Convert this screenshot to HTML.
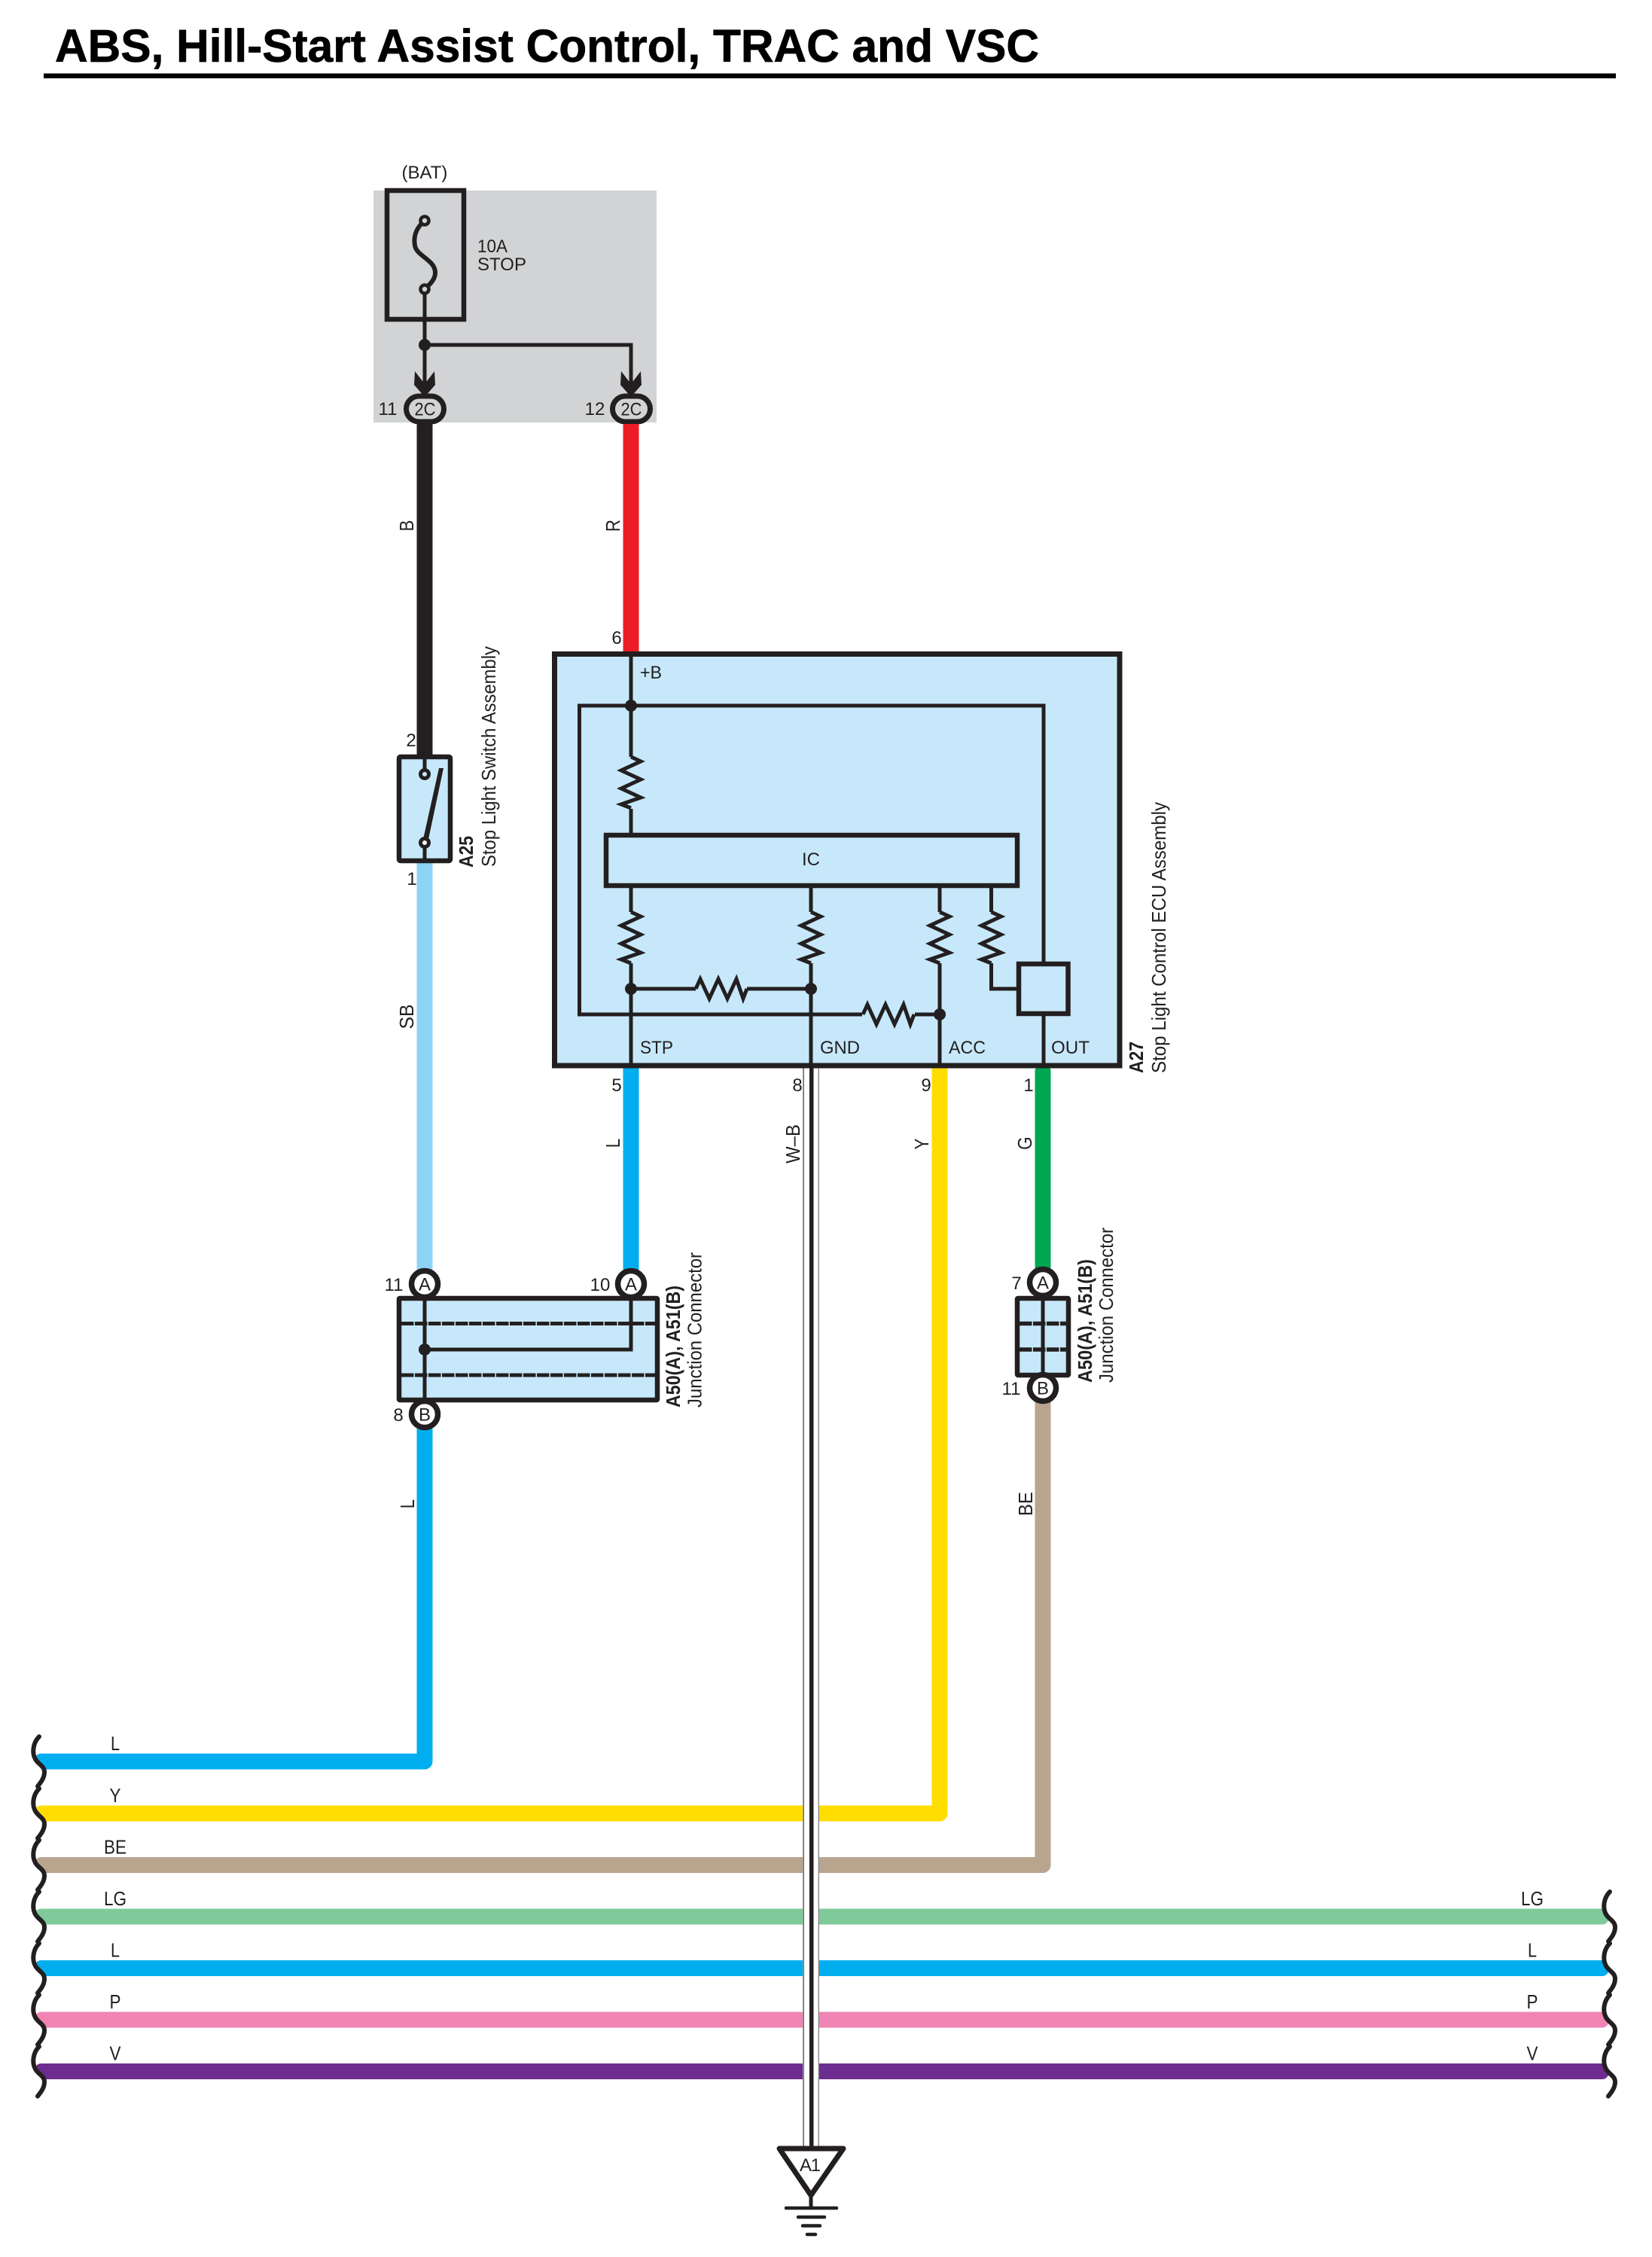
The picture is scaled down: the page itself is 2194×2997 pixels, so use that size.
<!DOCTYPE html>
<html lang="en">
<head>
<meta charset="utf-8">
<title>ABS, Hill-Start Assist Control, TRAC and VSC</title>
<style>
html,body{margin:0;padding:0;background:#fff}
svg{display:block}
text{font-family:"Liberation Sans",Arial,sans-serif;fill:#231f20}
.t{font-size:24px}
.m{text-anchor:middle}
.b{font-weight:bold}
</style>
</head>
<body>
<svg xmlns="http://www.w3.org/2000/svg" width="2194" height="2997" viewBox="0 0 2194 2997">
<defs>
  <path id="res" d="M0 0L13 6L-13 18L13 30L-13 42L13 54L-13 63L0 68" fill="none" stroke="#231f20" stroke-width="5" stroke-linejoin="miter"/>
  <path id="wave" d="M52 -33C44 -25 42 -12 47 -3C51 4 59 6 59 14C59 22 54 28 50 33" fill="none" stroke="#231f20" stroke-width="6" stroke-linecap="round"/>
  <path id="wave2" d="M2138 -33C2130 -25 2128 -12 2133 -3C2137 4 2145 6 2145 14C2145 22 2140 28 2136 33" fill="none" stroke="#231f20" stroke-width="6" stroke-linecap="round"/>
  <path id="arrow" d="M-13 -31L-3 -18L3 -18L13 -31L14 -13L0 3L-14 -13Z" fill="#231f20"/>
</defs>

<!-- Title -->
<text x="73" y="82" font-size="61" class="b" textLength="1307" lengthAdjust="spacingAndGlyphs" style="fill:#000;stroke:#000;stroke-width:.7">ABS, Hill-Start Assist Control, TRAC and VSC</text>
<rect x="58" y="97.500" width="2088" height="6.500" fill="#000"/>

<!-- Grey fuse block -->
<rect x="496" y="253" width="376" height="308" fill="#d1d3d4"/>
<rect x="514" y="253" width="102" height="171" fill="#d1d3d4" stroke="#231f20" stroke-width="6.500"/>
<text x="564" y="237" class="t m">(BAT)</text>
<text x="634" y="335" class="t" textLength="40" lengthAdjust="spacingAndGlyphs">10A</text>
<text x="634" y="359" class="t" textLength="65" lengthAdjust="spacingAndGlyphs">STOP</text>
<path d="M564 293C552 303 549 315 551 326C553 340 578 345 578 362C578 372 570 378 564 384" fill="none" stroke="#231f20" stroke-width="6"/>
<path d="M564 384V520M564 458H838V520" fill="none" stroke="#231f20" stroke-width="5"/>
<circle cx="564" cy="293" r="5.500" fill="#d1d3d4" stroke="#231f20" stroke-width="4.500"/>
<circle cx="564" cy="384" r="5.500" fill="#d1d3d4" stroke="#231f20" stroke-width="4.500"/>
<circle cx="564" cy="458" r="8" fill="#231f20"/>
<use href="#arrow" x="564" y="524"/>
<use href="#arrow" x="838" y="524"/>
<rect x="539.500" y="526" width="50" height="34" rx="17" fill="#d1d3d4" stroke="#231f20" stroke-width="7"/>
<rect x="813.500" y="526" width="50" height="34" rx="17" fill="#d1d3d4" stroke="#231f20" stroke-width="7"/>
<text x="564.500" y="551.500" class="t m" textLength="28" lengthAdjust="spacingAndGlyphs">2C</text>
<text x="838.500" y="551.500" class="t m" textLength="28" lengthAdjust="spacingAndGlyphs">2C</text>
<text x="515" y="551" class="t m">11</text>
<text x="790" y="551" class="t m">12</text>

<!-- Vertical coloured wires -->
<rect x="553.500" y="563" width="21" height="440" fill="#231f20"/>
<rect x="827.500" y="563" width="21" height="302" fill="#ed1c24"/>
<rect x="553.500" y="1146" width="21" height="540" fill="#8dd3f6"/>
<rect x="827.500" y="1418" width="21" height="268" fill="#00aeef"/>
<rect x="1237.500" y="1418" width="21" height="10" fill="#ffdd00"/>
<rect x="1374.500" y="1418" width="21" height="268" rx="3" fill="#00a651"/>

<!-- Bus wires -->
<path d="M564 1890V2339H62" fill="none" stroke="#00aeef" stroke-width="21" stroke-linejoin="round"/>
<path d="M1088 2408H1248V1418" fill="none" stroke="#ffdd00" stroke-width="21" stroke-linejoin="round"/>
<path d="M1088 2476.500H1385V1860" fill="none" stroke="#b9a48e" stroke-width="21" stroke-linejoin="round"/>
<rect x="60" y="2397.500" width="1006" height="21" fill="#ffdd00"/>
<rect x="60" y="2466" width="1006" height="21" fill="#b9a48e"/>

<path d="M48 2332Q50 2328.500 55 2328.500H70V2349.500H59Z" fill="#00aeef"/>
<path d="M48 2401Q50 2397.500 55 2397.500H70V2418.500H59Z" fill="#ffdd00"/>
<path d="M48 2469.500Q50 2466 55 2466H70V2487H59Z" fill="#b9a48e"/>

<path d="M48 2538Q50 2534.500 55 2534.500H1066V2555.500H59Z" fill="#80c99b"/>
<path d="M1088 2534.500H2130L2137 2548Q2134 2555.500 2128 2555.500H1088Z" fill="#80c99b"/>
<path d="M48 2606.500Q50 2603 55 2603H1066V2624H59Z" fill="#00aeef"/>
<path d="M1088 2603H2130L2137 2616.500Q2134 2624 2128 2624H1088Z" fill="#00aeef"/>
<path d="M48 2675Q50 2671.500 55 2671.500H1066V2692.500H59Z" fill="#f084b4"/>
<path d="M1088 2671.500H2130L2137 2685Q2134 2692.500 2128 2692.500H1088Z" fill="#f084b4"/>
<path d="M48 2743.500Q50 2740 55 2740H1066V2761H59Z" fill="#6d2c8f"/>
<path d="M1088 2740H2130L2137 2753.500Q2134 2761 2128 2761H1088Z" fill="#6d2c8f"/>

<!-- Wavy ends -->
<use href="#wave" y="2339"/>
<use href="#wave" y="2408"/>
<use href="#wave" y="2476.500"/>
<use href="#wave" y="2545"/>
<use href="#wave" y="2613.500"/>
<use href="#wave" y="2682"/>
<use href="#wave" y="2750.500"/>
<use href="#wave2" y="2545"/>
<use href="#wave2" y="2613.500"/>
<use href="#wave2" y="2682"/>
<use href="#wave2" y="2750.500"/>

<!-- Bus labels -->
<text x="153" y="2324" style="font-size:26px" class="m" textLength="12" lengthAdjust="spacingAndGlyphs">L</text>
<text x="153" y="2393" style="font-size:26px" class="m" textLength="15" lengthAdjust="spacingAndGlyphs">Y</text>
<text x="153" y="2461.500" style="font-size:26px" class="m" textLength="30" lengthAdjust="spacingAndGlyphs">BE</text>
<text x="153" y="2530" style="font-size:26px" class="m" textLength="30" lengthAdjust="spacingAndGlyphs">LG</text>
<text x="153" y="2598.500" style="font-size:26px" class="m" textLength="12" lengthAdjust="spacingAndGlyphs">L</text>
<text x="153" y="2667" style="font-size:26px" class="m" textLength="15" lengthAdjust="spacingAndGlyphs">P</text>
<text x="153" y="2735.500" style="font-size:26px" class="m" textLength="15" lengthAdjust="spacingAndGlyphs">V</text>
<text x="2035" y="2530" style="font-size:26px" class="m" textLength="30" lengthAdjust="spacingAndGlyphs">LG</text>
<text x="2035" y="2598.500" style="font-size:26px" class="m" textLength="12" lengthAdjust="spacingAndGlyphs">L</text>
<text x="2035" y="2667" style="font-size:26px" class="m" textLength="15" lengthAdjust="spacingAndGlyphs">P</text>
<text x="2035" y="2735.500" style="font-size:26px" class="m" textLength="15" lengthAdjust="spacingAndGlyphs">V</text>

<!-- Rotated wire labels -->
<text transform="translate(549 698) rotate(-90) scale(.86 1)" style="font-size:26px" class="m">B</text>
<text transform="translate(823 698) rotate(-90) scale(.86 1)" style="font-size:26px" class="m">R</text>
<text transform="translate(549 1350) rotate(-90) scale(.95 1)" style="font-size:26px" class="m">SB</text>
<text transform="translate(823 1518) rotate(-90) scale(.86 1)" style="font-size:26px" class="m">L</text>
<text transform="translate(1062 1519) rotate(-90) scale(.92 1)" style="font-size:26px" class="m">W–B</text>
<text transform="translate(1233 1519) rotate(-90) scale(.86 1)" style="font-size:26px" class="m">Y</text>
<text transform="translate(1370 1518) rotate(-90) scale(.86 1)" style="font-size:26px" class="m">G</text>
<text transform="translate(550 1997) rotate(-90) scale(.86 1)" style="font-size:26px" class="m">L</text>
<text transform="translate(1371 1997) rotate(-90) scale(.92 1)" style="font-size:26px" class="m">BE</text>

<!-- Stop light switch -->
<rect x="530" y="1005" width="68" height="138" rx="2" fill="#c7e8fa" stroke="#231f20" stroke-width="6.500"/>
<path d="M564 1005V1028M564 1119V1143" stroke="#231f20" stroke-width="5" fill="none"/>
<path d="M561 1119L583 1020H589L568 1119Z" fill="#231f20"/>
<circle cx="564" cy="1028" r="5.500" fill="#c7e8fa" stroke="#231f20" stroke-width="5"/>
<circle cx="564" cy="1119" r="5.500" fill="#fff" stroke="#231f20" stroke-width="5"/>
<text x="546" y="991" class="t m">2</text>
<text x="547" y="1175" class="t m">1</text>
<text transform="translate(628 1152) rotate(-90)" style="font-size:26px" class="b" textLength="42" lengthAdjust="spacingAndGlyphs">A25</text>
<text transform="translate(658 1151) rotate(-90)" style="font-size:26px" textLength="293" lengthAdjust="spacingAndGlyphs">Stop Light Switch Assembly</text>

<!-- ECU -->
<rect x="736.500" y="868.500" width="750.500" height="546.500" fill="#c7e8fa" stroke="#231f20" stroke-width="7"/>
<g fill="none" stroke="#231f20" stroke-width="5">
  <path d="M838 865V1005M838 1074V1106"/>
  <path d="M838 1179V1211M838 1279V1418"/>
  <path d="M1077 1179V1211M1077 1279V1418"/>
  <path d="M1248 1179V1211M1248 1279V1418"/>
  <path d="M1316.500 1179V1211M1316.500 1279V1313H1350"/>
  <path d="M1386 1277V937H769.500V1347H1145M1215 1347H1248"/>
  <path d="M1386 1349V1418"/>
  <path d="M838 1313H924M992 1313H1077"/>
</g>
<use href="#res" transform="translate(838 1005)"/>
<use href="#res" transform="translate(838 1211)"/>
<use href="#res" transform="translate(1077 1211)"/>
<use href="#res" transform="translate(1248 1211)"/>
<use href="#res" transform="translate(1316.500 1211)"/>
<use href="#res" transform="translate(924 1313) rotate(-90)"/>
<use href="#res" transform="translate(1146 1347) rotate(-90)"/>
<rect x="805" y="1109" width="546" height="67" fill="#c7e8fa" stroke="#231f20" stroke-width="6.500"/>
<rect x="1353" y="1280" width="65.500" height="66" fill="#c7e8fa" stroke="#231f20" stroke-width="6.500"/>
<circle cx="838" cy="937" r="8" fill="#231f20"/>
<circle cx="838" cy="1313" r="8" fill="#231f20"/>
<circle cx="1077" cy="1313" r="8" fill="#231f20"/>
<circle cx="1248" cy="1347" r="8" fill="#231f20"/>
<text x="1077" y="1149" class="t m">IC</text>
<text x="850" y="901" class="t" textLength="29" lengthAdjust="spacingAndGlyphs">+B</text>
<text x="850" y="1399" class="t" textLength="44" lengthAdjust="spacingAndGlyphs">STP</text>
<text x="1089" y="1399" class="t" textLength="53" lengthAdjust="spacingAndGlyphs">GND</text>
<text x="1260" y="1399" class="t" textLength="49" lengthAdjust="spacingAndGlyphs">ACC</text>
<text x="1396" y="1399" class="t" textLength="51" lengthAdjust="spacingAndGlyphs">OUT</text>
<text x="819" y="855" class="t m">6</text>
<text x="819" y="1449" class="t m">5</text>
<text x="1059" y="1449" class="t m">8</text>
<text x="1230" y="1449" class="t m">9</text>
<text x="1366" y="1449" class="t m">1</text>
<text transform="translate(1518 1425) rotate(-90)" style="font-size:26px" class="b" textLength="42" lengthAdjust="spacingAndGlyphs">A27</text>
<text transform="translate(1548 1425) rotate(-90)" style="font-size:26px" textLength="360" lengthAdjust="spacingAndGlyphs">Stop Light Control ECU Assembly</text>

<!-- GND wire -->
<rect x="1066.500" y="1418" width="1.200" height="1434" fill="#333"/>
<rect x="1086.600" y="1418" width="1.400" height="1434" fill="#888"/>
<rect x="1075" y="1418" width="5.500" height="1434" fill="#231f20"/>

<!-- Ground -->
<path d="M1035 2853H1120L1077 2915Z" fill="#fff" stroke="#231f20" stroke-width="7" stroke-linejoin="round"/>
<path d="M1077 2915V2932" stroke="#231f20" stroke-width="5" fill="none"/>
<g stroke="#231f20" stroke-width="4.500" stroke-linecap="round" fill="none">
  <path d="M1044 2932H1111"/>
  <path d="M1060 2944H1095"/>
  <path d="M1066 2955.500H1089"/>
  <path d="M1072 2967H1083"/>
</g>
<text x="1076" y="2883" class="t m" textLength="28" lengthAdjust="spacing">A1</text>

<!-- Junction connector 1 -->
<rect x="530" y="1724" width="343" height="135" rx="1" fill="#c7e8fa" stroke="#231f20" stroke-width="6.500"/>
<path d="M533 1757.500H870M533 1826H870" stroke="#231f20" stroke-width="5" stroke-dasharray="16.500 1.500" fill="none"/>
<path d="M564 1724V1859M564 1792H838V1724" stroke="#231f20" stroke-width="5" fill="none"/>
<circle cx="564" cy="1792" r="8" fill="#231f20"/>
<circle cx="564" cy="1705" r="17.500" fill="#fff" stroke="#231f20" stroke-width="7.500"/>
<circle cx="838" cy="1705" r="17.500" fill="#fff" stroke="#231f20" stroke-width="7.500"/>
<circle cx="564" cy="1878" r="17.500" fill="#fff" stroke="#231f20" stroke-width="7.500"/>
<text x="564" y="1713.500" class="t m">A</text>
<text x="838" y="1713.500" class="t m">A</text>
<text x="564" y="1886.500" class="t m">B</text>
<text x="523" y="1714" class="t m">11</text>
<text x="797" y="1714" class="t m">10</text>
<text x="529" y="1887" class="t m">8</text>
<text transform="translate(903 1869) rotate(-90)" style="font-size:26px" class="b" textLength="162" lengthAdjust="spacingAndGlyphs">A50(A), A51(B)</text>
<text transform="translate(931.500 1869) rotate(-90)" style="font-size:26px" textLength="206" lengthAdjust="spacingAndGlyphs">Junction Connector</text>

<!-- Junction connector 2 -->
<rect x="1351" y="1724" width="68" height="102" rx="1" fill="#c7e8fa" stroke="#231f20" stroke-width="6.500"/>
<path d="M1354 1757.500H1416M1354 1792H1416" stroke="#231f20" stroke-width="5.500" stroke-dasharray="16.500 1.500" fill="none"/>
<path d="M1385 1724V1826" stroke="#231f20" stroke-width="5" fill="none"/>
<circle cx="1385" cy="1703" r="17.500" fill="#fff" stroke="#231f20" stroke-width="7.500"/>
<circle cx="1385" cy="1843" r="17.500" fill="#fff" stroke="#231f20" stroke-width="7.500"/>
<text x="1385" y="1711.500" class="t m">A</text>
<text x="1385" y="1851.500" class="t m">B</text>
<text x="1350" y="1712" class="t m">7</text>
<text x="1343" y="1852" class="t m">11</text>
<text transform="translate(1450 1836) rotate(-90)" style="font-size:26px" class="b" textLength="164" lengthAdjust="spacingAndGlyphs">A50(A), A51(B)</text>
<text transform="translate(1478 1836) rotate(-90)" style="font-size:26px" textLength="206" lengthAdjust="spacingAndGlyphs">Junction Connector</text>
</svg>
</body>
</html>
